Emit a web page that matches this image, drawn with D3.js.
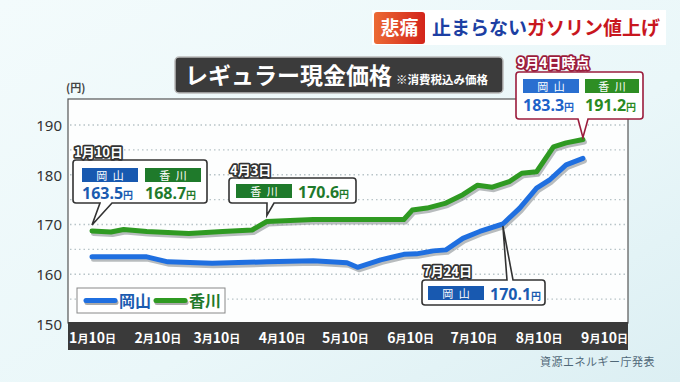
<!DOCTYPE html>
<html lang="ja">
<head>
<meta charset="UTF-8">
<title>レギュラー現金価格</title>
<script src="https://d3js.org/d3.v7.min.js"></script>
<style>
  body { margin: 0; padding: 0; overflow: hidden; }
  svg { display: block; font-family: "Noto Sans CJK JP", "Noto Sans", sans-serif; }
</style>
</head>
<body>
<script>
// データ
var okayamaDates = ["2023-01-10","2023-02-05","2023-02-15","2023-03-08","2023-04-03","2023-04-25","2023-05-11","2023-05-16","2023-05-27","2023-06-07","2023-06-13","2023-06-21","2023-06-27","2023-07-05","2023-07-13","2023-07-24","2023-08-01","2023-08-09","2023-08-15","2023-08-23","2023-08-31"];
var okayamaValues = [163.5,163.5,162.5,162.2,162.5,162.7,162.3,161.4,162.9,164.0,164.1,164.7,164.9,167.2,168.6,170.1,173.3,177.3,178.9,182.0,183.3];
var kagawaDates = ["2023-01-10","2023-01-19","2023-01-25","2023-02-05","2023-02-25","2023-03-13","2023-03-27","2023-04-03","2023-04-25","2023-05-16","2023-06-07","2023-06-11","2023-06-18","2023-06-27","2023-07-05","2023-07-12","2023-07-19","2023-07-27","2023-08-02","2023-08-09","2023-08-17","2023-08-23","2023-08-31"];
var kagawaValues = [168.7,168.5,169.0,168.6,168.2,168.6,168.9,170.6,171.0,171.0,171.0,172.9,173.3,174.3,176.0,177.9,177.5,178.6,180.3,180.6,185.6,186.4,187.1];
var tickDates = ["2023-01-10","2023-02-10","2023-03-10","2023-04-10","2023-05-10","2023-06-10","2023-07-10","2023-08-10","2023-09-10"];
var tickMonths = ["1","2","3","4","5","6","7","8","9"];
var yTicks = [150,160,170,180,190];
var gridValues = [155,160,165,170,175,180,185,190];

var parse = d3.timeParse("%Y-%m-%d");
var okayama = okayamaDates.map(function(d, i) { return {date: parse(d), value: okayamaValues[i]}; });
var kagawa = kagawaDates.map(function(d, i) { return {date: parse(d), value: kagawaValues[i]}; });

var W = 680, H = 382;
var BLUE = "#1f6fe0", GREEN = "#2f9a22";
var BLUE_BAR = "#1859b0", GREEN_BAR = "#1f7a2b";
var BLUE_TXT = "#1a5bb0", GREEN_TXT = "#1f7a2b";

var svg = d3.select("body").append("svg").attr("width", W).attr("height", H);
var defs = svg.append("defs");

var bg = defs.append("linearGradient").attr("id", "bg").attr("x1", 0).attr("y1", 0).attr("x2", 1).attr("y2", 1);
bg.append("stop").attr("offset", "0%").attr("stop-color", "#f3fbfc");
bg.append("stop").attr("offset", "60%").attr("stop-color", "#eaf7f9");
bg.append("stop").attr("offset", "100%").attr("stop-color", "#dceff3");
svg.append("rect").attr("width", W).attr("height", H).attr("fill", "url(#bg)");

var badge = defs.append("linearGradient").attr("id", "badge").attr("x1", 0).attr("y1", 0).attr("x2", 1).attr("y2", 0);
badge.append("stop").attr("offset", "0%").attr("stop-color", "#ec6a34");
badge.append("stop").attr("offset", "100%").attr("stop-color", "#d3241a");

// 見出し（右上）
svg.append("rect").attr("x", 372).attr("y", 10).attr("width", 294).attr("height", 35).attr("fill", "#fff");
svg.append("rect").attr("x", 374).attr("y", 12).attr("width", 51).attr("height", 32).attr("rx", 3).attr("fill", "url(#badge)");
svg.append("text").attr("x", 399.5).attr("y", 35).attr("text-anchor", "middle")
  .attr("font-size", 19).attr("font-weight", "bold").attr("fill", "#fff").text("悲痛");
var head = svg.append("text").attr("x", 432).attr("y", 35).attr("font-size", 19).attr("font-weight", "bold");
head.append("tspan").attr("fill", "#1c3fa3").text("止まらない");
head.append("tspan").attr("fill", "#c8161e").text("ガソリン値上げ");

// タイトル
svg.append("rect").attr("x", 175).attr("y", 57).attr("width", 328).attr("height", 36).attr("rx", 4)
  .attr("fill", "#3b3b3b").attr("stroke", "#bbb").attr("stroke-width", 1.5);
var ttl = svg.append("text").attr("x", 185).attr("y", 84).attr("fill", "#fff").attr("font-weight", "bold");
ttl.append("tspan").attr("font-size", 23).text("レギュラー現金価格");
ttl.append("tspan").attr("font-size", 11.5).attr("dx", 4).text("※消費税込み価格");

// スケール
var x = d3.scaleTime().domain([parse("2023-01-10"), parse("2023-09-10")]).range([92, 604]);
var y = d3.scaleLinear().domain([150, 190]).range([324, 125]);

// プロット領域
svg.append("rect").attr("x", 68).attr("y", 99).attr("width", 560).attr("height", 224)
  .attr("fill", "#fdfefe").attr("stroke", "#555").attr("stroke-width", 1.2);

svg.append("g").selectAll("line").data(gridValues).enter().append("line")
  .attr("x1", 70).attr("x2", 626)
  .attr("y1", function(d) { return y(d); }).attr("y2", function(d) { return y(d); })
  .attr("stroke", "#b8c4c8").attr("stroke-width", 1.3).attr("stroke-dasharray", "1.5,3");

svg.append("text").attr("x", 66).attr("y", 92).attr("font-size", 11).attr("font-weight", "bold").attr("fill", "#444").text("(円)");

var yAxis = d3.axisLeft(y).tickValues(yTicks).tickSize(0).tickPadding(0);
var gy = svg.append("g").attr("transform", "translate(62,0)").call(yAxis);
gy.select(".domain").remove();
gy.selectAll("text").attr("font-size", 15).attr("fill", "#333").attr("font-family", "'Noto Sans', sans-serif").attr("dy", "0.35em");

// X軸の帯
svg.append("rect").attr("x", 68).attr("y", 322).attr("width", 560).attr("height", 28).attr("fill", "#3a3a3a");
var xAxis = d3.axisBottom(x).tickValues(tickDates.map(parse)).tickSize(0).tickPadding(0).tickFormat("");
var gx = svg.append("g").attr("transform", "translate(0,343)").call(xAxis);
gx.select(".domain").remove();
gx.selectAll(".tick text").each(function(d, i) {
  var t = d3.select(this).attr("dy", 0).attr("font-weight", "bold").attr("fill", "#fff")
    .attr("font-family", "'Noto Sans CJK JP', sans-serif").attr("font-size", 14).text(null);
  t.append("tspan").text(tickMonths[i]);
  t.append("tspan").attr("font-size", 11).text("月");
  t.append("tspan").text("10");
  t.append("tspan").attr("font-size", 11).text("日");
});

// 折れ線
var line = d3.line().x(function(d) { return x(d.date); }).y(function(d) { return y(d.value); }).curve(d3.curveLinear);
[[kagawa, GREEN], [okayama, BLUE]].forEach(function(s) {
  svg.append("path").datum(s[0]).attr("d", line).attr("fill", "none")
    .attr("stroke", "#9aa0a3").attr("stroke-opacity", 0.7).attr("stroke-width", 5)
    .attr("stroke-linejoin", "round").attr("stroke-linecap", "round")
    .attr("transform", "translate(1.5,2.5)");
  svg.append("path").datum(s[0]).attr("d", line).attr("fill", "none")
    .attr("stroke", s[1]).attr("stroke-width", 5)
    .attr("stroke-linejoin", "round").attr("stroke-linecap", "round");
});

// 凡例
svg.append("rect").attr("x", 77).attr("y", 288).attr("width", 148).attr("height", 25)
  .attr("fill", "#fff").attr("stroke", "#888").attr("stroke-width", 1);
[[86, BLUE, BLUE_TXT, "岡山"], [156, GREEN, GREEN_TXT, "香川"]].forEach(function(l) {
  svg.append("line").attr("x1", l[0] + 1).attr("x2", l[0] + 30).attr("y1", 302.5).attr("y2", 302.5)
    .attr("stroke", "#aaa").attr("stroke-width", 5).attr("stroke-linecap", "round");
  svg.append("line").attr("x1", l[0]).attr("x2", l[0] + 29).attr("y1", 300.5).attr("y2", 300.5)
    .attr("stroke", l[1]).attr("stroke-width", 5).attr("stroke-linecap", "round");
  svg.append("text").attr("x", l[0] + 33).attr("y", 307).attr("font-size", 16).attr("font-weight", "bold")
    .attr("fill", l[2]).text(l[3]);
});

// 吹き出し
function callout(o) {
  var g = svg.append("g");
  var bx = o.x, by = o.y, bw = o.w, bh = o.h, r = 3;
  var p;
  if (o.dir === "down") {
    p = "M" + (bx + r) + "," + by + "H" + (bx + bw - r) + "Q" + (bx + bw) + "," + by + " " + (bx + bw) + "," + (by + r) +
      "V" + (by + bh - r) + "Q" + (bx + bw) + "," + (by + bh) + " " + (bx + bw - r) + "," + (by + bh) +
      "H" + o.p2 + "L" + o.tx + "," + o.ty + "L" + o.p1 + "," + (by + bh) +
      "H" + (bx + r) + "Q" + bx + "," + (by + bh) + " " + bx + "," + (by + bh - r) +
      "V" + (by + r) + "Q" + bx + "," + by + " " + (bx + r) + "," + by + "Z";
  } else {
    p = "M" + (bx + r) + "," + by + "H" + o.p1 + "L" + o.tx + "," + o.ty + "L" + o.p2 + "," + by +
      "H" + (bx + bw - r) + "Q" + (bx + bw) + "," + by + " " + (bx + bw) + "," + (by + r) +
      "V" + (by + bh - r) + "Q" + (bx + bw) + "," + (by + bh) + " " + (bx + bw - r) + "," + (by + bh) +
      "H" + (bx + r) + "Q" + bx + "," + (by + bh) + " " + bx + "," + (by + bh - r) +
      "V" + (by + r) + "Q" + bx + "," + by + " " + (bx + r) + "," + by + "Z";
  }
  g.append("path").attr("d", p).attr("fill", "#fff").attr("stroke", o.stroke).attr("stroke-width", o.sw || 1.6);
  g.append("text").attr("x", o.lx).attr("y", o.ly).attr("font-size", o.lsize || 13).attr("font-weight", "bold")
    .attr("fill", "#fff").attr("stroke", o.stroke).attr("stroke-width", 3.5)
    .attr("paint-order", "stroke").attr("stroke-linejoin", "round").text(o.label);
  o.items.forEach(function(it) {
    g.append("rect").attr("x", it.bx).attr("y", it.by).attr("width", it.bw).attr("height", 14).attr("fill", it.bar);
    g.append("text").attr("x", it.bx + it.bw / 2).attr("y", it.by + 11.5).attr("text-anchor", "middle")
      .attr("font-size", 11).attr("fill", "#fff").text(it.name.split("").join("\u2002"));
    var t = g.append("text").attr("x", it.vx).attr("y", it.vy).attr("font-weight", "bold").attr("fill", it.color)
      .attr("font-family", "'Noto Sans', sans-serif");
    t.append("tspan").attr("font-size", 16).text(it.val);
    t.append("tspan").attr("font-size", 10).attr("font-family", "'Noto Sans CJK JP', sans-serif").text("円");
  });
}

var p0 = okayama[0], k0 = kagawa[0], k4 = kagawa[7], o7 = okayama[15];
var oL = okayama[okayama.length - 1], kL = kagawa[kagawa.length - 1];

callout({x: 73, y: 160, w: 134, h: 43, dir: "down", p1: 100, p2: 112, tx: x(k0.date), ty: y(k0.value) - 6,
  stroke: "#333", label: "1月10日", lx: 74, ly: 157,
  items: [
    {bx: 82, by: 168, bw: 56, bar: BLUE_BAR, name: "岡山", vx: 82, vy: 199, color: BLUE_TXT, val: p0.value.toFixed(1)},
    {bx: 145, by: 168, bw: 56, bar: GREEN_BAR, name: "香川", vx: 145, vy: 199, color: GREEN_TXT, val: k0.value.toFixed(1)}
  ]});

callout({x: 229, y: 178, w: 127, h: 25, dir: "down", p1: 267, p2: 274, tx: x(k4.date), ty: y(k4.value) - 6,
  stroke: "#333", label: "4月3日", lx: 230, ly: 175,
  items: [
    {bx: 236, by: 184, bw: 56, bar: GREEN_BAR, name: "香川", vx: 298, vy: 198, color: GREEN_TXT, val: k4.value.toFixed(1)}
  ]});

callout({x: 422, y: 280, w: 123, h: 25, dir: "up", p1: 507, p2: 513, tx: x(o7.date), ty: y(o7.value) + 2,
  stroke: "#333", label: "7月24日", lx: 423, ly: 276,
  items: [
    {bx: 428, by: 286, bw: 56, bar: BLUE_BAR, name: "岡山", vx: 490, vy: 300, color: BLUE_TXT, val: o7.value.toFixed(1)}
  ]});

callout({x: 516, y: 72, w: 127, h: 47, dir: "down", p1: 578, p2: 588, tx: x(kL.date), ty: y(kL.value) - 2,
  stroke: "#9b1c3c", label: "9月4日時点", lx: 517, ly: 68, lsize: 14,
  items: [
    {bx: 523, by: 79, bw: 56, bar: "#2a6fd0", name: "岡山", vx: 523, vy: 111, color: "#1d62c8", val: oL.value.toFixed(1)},
    {bx: 585, by: 79, bw: 54, bar: "#2e8e24", name: "香川", vx: 585, vy: 111, color: "#2a8a22", val: "191.2"}
  ]});

// 出典
svg.append("text").attr("x", 655).attr("y", 366).attr("text-anchor", "end").attr("font-size", 11)
  .attr("fill", "#506878").attr("letter-spacing", 0.5).text("資源エネルギー庁発表");
</script>
</body>
</html>
